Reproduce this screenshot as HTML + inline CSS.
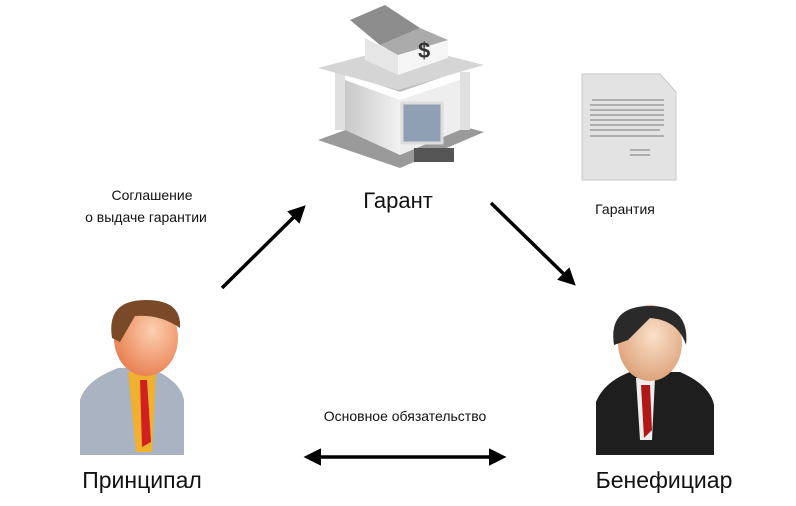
<!DOCTYPE html>
<html><head><meta charset="utf-8"><style>
html,body{margin:0;padding:0;background:#fff;}
svg{display:block;}
text{font-family:"Liberation Sans",sans-serif;fill:#111;}
</style></head><body>
<svg width="796" height="506" viewBox="0 0 796 506" xmlns="http://www.w3.org/2000/svg">
<defs>
<marker id="ah" markerWidth="5" markerHeight="5" refX="3.5" refY="2.5" orient="auto" markerUnits="strokeWidth"><path d="M0,0 L5,2.5 L0,5 Z" fill="#000"/></marker>
<marker id="ah2" markerWidth="5" markerHeight="5" refX="2" refY="2.5" orient="auto-start-reverse" markerUnits="strokeWidth"><path d="M0,0 L5,2.5 L0,5 Z" fill="#000"/></marker>
<linearGradient id="wall" x1="0" x2="1"><stop offset="0" stop-color="#c8c8c8"/><stop offset="1" stop-color="#f2f2f2"/></linearGradient>
<radialGradient id="face" cx="0.6" cy="0.4" r="0.7"><stop offset="0" stop-color="#fbd0b0"/><stop offset="1" stop-color="#e8784a"/></radialGradient>
<radialGradient id="face2" cx="0.55" cy="0.4" r="0.7"><stop offset="0" stop-color="#fbe0c8"/><stop offset="1" stop-color="#d89a70"/></radialGradient>
</defs>
<!-- Bank -->
<polygon points="318,140 400,168 484,132 400,110" fill="#9a9a9a"/>
<polygon points="330,68 400,92 474,66 400,45" fill="#bdbdbd"/>
<rect x="335" y="72" width="10" height="58" fill="#e0e0e0"/>
<rect x="460" y="72" width="10" height="58" fill="#e0e0e0"/>
<polygon points="345,80 400,100 400,155 345,130" fill="url(#wall)"/>
<polygon points="400,100 460,80 460,130 400,155" fill="#eeeeee"/>
<rect x="402" y="103" width="40" height="40" fill="#8fa0b4" stroke="#ddd" stroke-width="3"/>
<rect x="414" y="148" width="40" height="14" fill="#555"/>
<polygon points="318,68 398,90 484,65 405,45" fill="#d5d5d5"/>
<polygon points="365,38 398,55 398,75 365,60" fill="#e6e6e6"/>
<polygon points="398,55 448,38 448,58 398,75" fill="#f5f5f5"/>
<polygon points="350,20 385,5 420,28 380,45" fill="#8c8c8c"/>
<polygon points="420,28 448,40 398,55 380,45" fill="#aaa"/>
<text x="418" y="58" font-size="22" font-weight="bold" style="fill:#333">$</text>
<text x="398" y="208" font-size="22" text-anchor="middle">Гарант</text>
<!-- Document -->
<path d="M582,74 L660,74 L676,92 L676,180 L582,180 Z" fill="#e3e3e3" stroke="#c8c8c8"/>
<g stroke="#555" stroke-width="0.8">
<line x1="592" y1="100" x2="664" y2="100"/><line x1="590" y1="105" x2="664" y2="105"/><line x1="590" y1="110" x2="664" y2="110"/><line x1="590" y1="115" x2="664" y2="115"/><line x1="590" y1="120" x2="664" y2="120"/><line x1="590" y1="125" x2="664" y2="125"/><line x1="590" y1="130" x2="660" y2="130"/><line x1="590" y1="136" x2="664" y2="136"/><line x1="630" y1="150" x2="650" y2="150"/><line x1="630" y1="155" x2="650" y2="155"/>
</g>
<text x="625" y="214" font-size="14" text-anchor="middle">Гарантия</text>
<!-- Agreement text -->
<text x="152" y="200" font-size="14" text-anchor="middle">Соглашение</text>
<text x="146" y="222" font-size="14" text-anchor="middle">о выдаче гарантии</text>
<!-- arrows -->
<line x1="222" y1="288" x2="302" y2="209" stroke="#000" stroke-width="3.5" marker-end="url(#ah)"/>
<line x1="491" y1="203" x2="572" y2="282" stroke="#000" stroke-width="3.5" marker-end="url(#ah)"/>
<line x1="314" y1="457" x2="496" y2="457" stroke="#000" stroke-width="3.5" marker-start="url(#ah2)" marker-end="url(#ah2)"/>
<text x="405" y="421" font-size="14" text-anchor="middle">Основное обязательство</text>
<!-- Principal -->
<path d="M80,455 L80,400 Q86,380 118,368 L150,368 Q180,380 184,400 L184,455 Z" fill="#aab3c2"/>
<polygon points="128,372 156,372 152,452 136,452" fill="#f0b030"/>
<polygon points="140,380 147,380 151,442 142,447" fill="#d02020"/>
<ellipse cx="146" cy="338" rx="32" ry="38" fill="url(#face)"/>
<path d="M112,338 Q106,300 146,300 Q182,300 180,328 Q160,314 135,316 L120,342 Z" fill="#7a4a28"/>
<text x="142" y="488" font-size="23" text-anchor="middle">Принципал</text>
<!-- Beneficiary -->
<path d="M596,455 L596,402 Q604,382 630,372 L680,372 Q710,385 714,405 L714,455 Z" fill="#1e1e1e"/>
<polygon points="636,378 655,378 652,440 640,440" fill="#eee"/>
<polygon points="641,385 650,385 652,430 644,438" fill="#b01818"/>
<ellipse cx="650" cy="343" rx="32" ry="38" fill="url(#face2)"/>
<path d="M614,345 Q608,306 650,306 Q690,306 686,345 Q678,320 650,318 L628,340 Z" fill="#2a2a2a"/>
<text x="664" y="488" font-size="23" text-anchor="middle">Бенефициар</text>
</svg>
</body></html>
